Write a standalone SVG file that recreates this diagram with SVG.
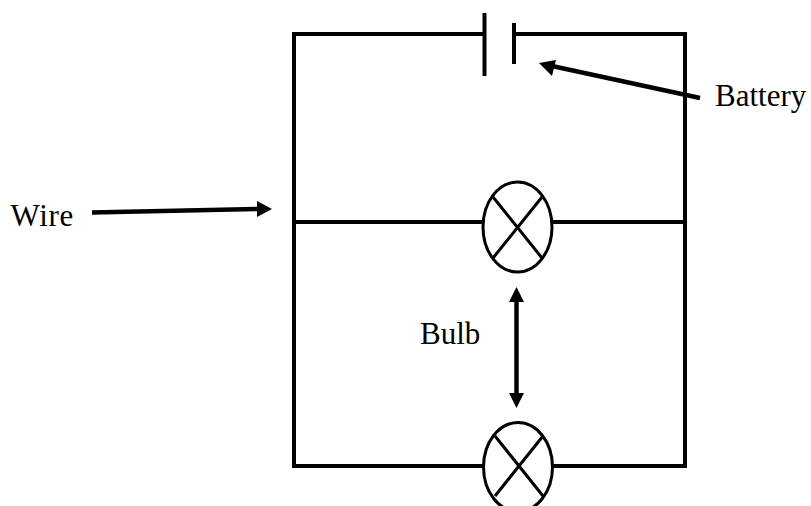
<svg xmlns="http://www.w3.org/2000/svg" width="811" height="506" viewBox="0 0 811 506">
<style>
.w{fill:none;stroke:#000;stroke-width:4}
.b{fill:none;stroke:#000;stroke-width:3}
.a{fill:none;stroke:#000;stroke-width:4.5}
.h{fill:#000;stroke:none}
text{font-family:"Liberation Serif","Times New Roman",serif;font-size:31px;fill:#000}
</style>
<rect width="811" height="506" fill="#fff"/>
<g id="connectors">
<path class="w" d="M484 34H294V466H484"/>
<path class="w" d="M514 34H685V466H552"/>
<path class="w" d="M294 222H483"/>
<path class="w" d="M552 222H685"/>
<path class="a" d="M700 98L552 66"/>
<polygon class="h" points="539,63 556,60 552,76"/>
<path class="a" d="M92 212.500L258 209"/>
<polygon class="h" points="272,209 257,201 257,217"/>
<path class="a" d="M516.500 300V395"/>
<polygon class="h" points="516.500,287 509,302 524,302"/>
<polygon class="h" points="516.500,408 509,393 524,393"/>
</g>
<g id="battery">
<path class="w" d="M484.500 13V76"/>
<path class="w" d="M514 23V64"/>
</g>
<g id="bulb-1">
<ellipse class="b" cx="517.500" cy="227" rx="34.500" ry="45" fill="#fff"/>
<path class="b" d="M493 197L542 258M542 197L493 258"/>
</g>
<g id="bulb-2">
<ellipse class="b" cx="518" cy="467" rx="34.500" ry="44.500" fill="#fff"/>
<path class="b" d="M495 436L543 496M543 436L495 496"/>
</g>
<g id="label-battery"><text x="715" y="106">Battery</text></g>
<g id="label-wire"><text x="10.500" y="225.500" letter-spacing="0.7">Wire</text></g>
<g id="label-bulb"><text x="420" y="343.500">Bulb</text></g>
</svg>
